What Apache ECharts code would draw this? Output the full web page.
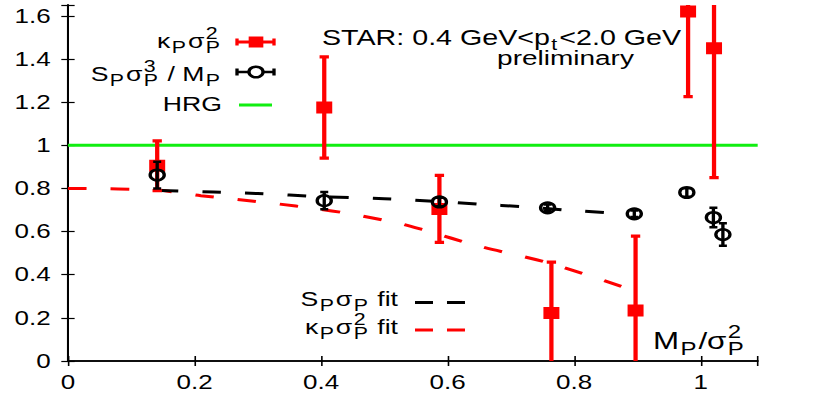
<!DOCTYPE html>
<html>
<head>
<meta charset="utf-8">
<script src="https://cdn.jsdelivr.net/npm/echarts@6/dist/echarts.min.js"></script>
<style>
  html, body { margin: 0; padding: 0; background: #fff; overflow: hidden; }
  /* the reference picture is stretched sideways, so draw narrow and stretch */
  #chart { width: 610px; height: 397px; transform: scaleX(1.33279); transform-origin: 0 0; }
</style>
</head>
<body>
<div id="chart"></div>
<script>
// kappa_p sigma_p^2 points
const kapX = [0.141, 0.405, 0.587, 0.764, 0.897, 0.980, 1.021];
const kapY = [0.905, 1.175, 0.705, 0.223, 0.234, 1.62, 1.45];
const kapErr = [0.115, 0.235, 0.155, 0.235, 0.345, 0.395, 0.60];

// S_p sigma_p^3 / M_p points
const sX = [0.141, 0.405, 0.587, 0.758, 0.895, 0.978, 1.020, 1.035];
const sY = [0.862, 0.743, 0.737, 0.71, 0.682, 0.781, 0.665, 0.586];
const sErr = [0.062, 0.04, 0.02, 0.015, 0.015, 0.02, 0.045, 0.052];

// fit curves
const kapFitX = [0, 0.14, 0.21, 0.29, 0.36, 0.43, 0.52, 0.56, 0.65, 0.76, 0.9];
const kapFitY = [0.8, 0.792, 0.766, 0.742, 0.718, 0.69, 0.64, 0.609, 0.532, 0.454, 0.32];
const sFitX = [0.145, 0.23, 0.3, 0.4, 0.5, 0.57, 0.65, 0.72, 0.79, 0.88];
const sFitY = [0.79, 0.783, 0.776, 0.762, 0.752, 0.742, 0.727, 0.715, 0.699, 0.682];

const hrgY = 1;
const xTicks = { min: 0, max: 1.09, step: 0.2 };
const yTicks = { min: 0, max: 1.65, step: 0.2 };

const SX = 813 / 610;
const FONT = '"Liberation Sans", Arial, Helvetica, sans-serif';
const ctx = document.createElement('canvas').getContext('2d');

function tw(s, size) {
  ctx.font = size + 'px ' + FONT;
  return ctx.measureText(s).width;
}

// lay out a label with sub/superscripts, 'p' stacked above a following 'b'
function mathText(parts, x, base, align, big, small) {
  const items = [];
  let cur = 0, stackW = 0;
  parts.forEach(([t, k]) => {
    const size = k === 'n' ? big : small;
    const w = tw(t, size);
    if (k === 'p') {
      cur += 1;
      items.push({ t, size, x: cur, dy: -0.45 * big });
      stackW = w;
      return;
    }
    if (k === 'b' && !stackW) cur += 1;
    items.push({ t, size, x: cur, dy: k === 'b' ? 0.24 * big : 0 });
    cur += Math.max(w, stackW) + (k === 'b' ? 1.5 : 0);
    stackW = 0;
  });
  cur += stackW;
  let x0 = x;
  if (align === 'right') x0 = x - cur;
  else if (align === 'center') x0 = x - cur / 2;
  return items.map(it => ({
    type: 'text',
    x: x0 + it.x,
    y: base + it.dy - 0.35 * it.size,
    z: 100,
    style: {
      text: it.t,
      font: it.size + 'px ' + FONT,
      fill: '#000',
      align: 'left', verticalAlign: 'middle',
      textAlign: 'left', textVerticalAlign: 'middle'
    }
  }));
}

function tickFmt(step) {
  return v => {
    const k = Math.round(v / step);
    return Math.abs(v - k * step) < 1e-6 ? String(+(k * step).toFixed(1)) : '';
  };
}

function errRender(color, lw, cap, marker) {
  return function (params, api) {
    const x = api.value(0), y = api.value(1), e = api.value(2);
    const c = api.coord([x, y]);
    const hi = api.coord([x, y + e]);
    const lo = api.coord([x, y - e]);
    const st = { stroke: color, lineWidth: lw };
    const children = [
      { type: 'line', shape: { x1: c[0], y1: hi[1], x2: c[0], y2: lo[1] }, style: st },
      { type: 'line', shape: { x1: c[0] - cap, y1: hi[1], x2: c[0] + cap, y2: hi[1] }, style: st },
      { type: 'line', shape: { x1: c[0] - cap, y1: lo[1], x2: c[0] + cap, y2: lo[1] }, style: st }
    ];
    if (marker === 'rect') {
      children.push({ type: 'rect', shape: { x: c[0] - 6, y: c[1] - 6, width: 12, height: 12 }, style: { fill: color } });
    } else {
      children.push({ type: 'circle', shape: { cx: c[0], cy: c[1], r: 5.3 }, style: { fill: 'none', stroke: color, lineWidth: 2.5 } });
    }
    return { type: 'group', children };
  };
}

const axisCommon = {
  type: 'value',
  axisLine: { show: true, lineStyle: { color: '#000', width: 1.5 } },
  axisTick: { show: true, inside: true, length: 5, lineStyle: { color: '#000', width: 1.2 } },
  splitLine: { show: false }
};

// legend and labels (screen x divided by SX)
const graphics = [].concat(
  mathText([['κ', 'n'], ['P', 'b'], ['σ', 'n'], ['2', 'p'], ['P', 'b']], 222 / SX, 48.5, 'right', 20, 16),
  mathText([['S', 'n'], ['P', 'b'], ['σ', 'n'], ['3', 'p'], ['P', 'b'], [' / M', 'n'], ['P', 'b']], 222 / SX, 81.5, 'right', 20, 16),
  mathText([['HRG', 'n']], 222 / SX, 111.5, 'right', 20, 16),
  mathText([['STAR: 0.4 GeV<p', 'n'], ['t', 'b'], ['<2.0 GeV', 'n']], 322 / SX, 45, 'left', 21.5, 16),
  mathText([['preliminary', 'n']], 565.5 / SX, 65, 'center', 21, 16),
  mathText([['S', 'n'], ['P', 'b'], ['σ', 'n'], ['P', 'b'], [' fit', 'n']], 398 / SX, 306, 'right', 20, 16),
  mathText([['κ', 'n'], ['P', 'b'], ['σ', 'n'], ['2', 'p'], ['P', 'b'], [' fit', 'n']], 398 / SX, 334.5, 'right', 20, 16),
  mathText([['M', 'n'], ['P', 'b'], ['/σ', 'n'], ['2', 'p'], ['P', 'b']], 653 / SX, 349, 'left', 23.5, 18),
  [
    // kappa sample
    { type: 'line', shape: { x1: 237 / SX, y1: 42, x2: 274 / SX, y2: 42 }, style: { stroke: '#ff0000', lineWidth: 3 } },
    { type: 'line', shape: { x1: 237 / SX, y1: 38.5, x2: 237 / SX, y2: 45.5 }, style: { stroke: '#ff0000', lineWidth: 2.5 } },
    { type: 'line', shape: { x1: 274 / SX, y1: 38.5, x2: 274 / SX, y2: 45.5 }, style: { stroke: '#ff0000', lineWidth: 2.5 } },
    { type: 'rect', shape: { x: 256 / SX - 5.5, y: 36.5, width: 11, height: 11 }, style: { fill: '#ff0000' } },
    // S sample
    { type: 'line', shape: { x1: 237 / SX, y1: 72, x2: 274 / SX, y2: 72 }, style: { stroke: '#000', lineWidth: 2.5 } },
    { type: 'line', shape: { x1: 237 / SX, y1: 68.5, x2: 237 / SX, y2: 75.5 }, style: { stroke: '#000', lineWidth: 2.5 } },
    { type: 'line', shape: { x1: 274 / SX, y1: 68.5, x2: 274 / SX, y2: 75.5 }, style: { stroke: '#000', lineWidth: 2.5 } },
    { type: 'circle', shape: { cx: 256 / SX, cy: 72, r: 5.3 }, style: { fill: '#fff', stroke: '#000', lineWidth: 2.5 } },
    // HRG sample
    { type: 'line', shape: { x1: 239 / SX, y1: 105, x2: 272 / SX, y2: 105 }, style: { stroke: '#11ee11', lineWidth: 3 } },
    // fit samples
    { type: 'line', shape: { x1: 415 / SX, y1: 302.5, x2: 465 / SX, y2: 302.5 }, style: { stroke: '#000', lineWidth: 3, lineDash: [13.5, 10.5] } },
    { type: 'line', shape: { x1: 415 / SX, y1: 330, x2: 465 / SX, y2: 330 }, style: { stroke: '#ff0000', lineWidth: 3, lineDash: [13.5, 10.5] } }
  ]
);

const chart = echarts.init(document.getElementById('chart'), null, { renderer: 'svg' });

chart.setOption({
  animation: false,
  backgroundColor: '#fff',
  textStyle: { fontFamily: FONT },
  grid: { left: 51, right: 41.5, top: 5, bottom: 36 },
  xAxis: [
    Object.assign({}, axisCommon, {
      position: 'bottom', min: xTicks.min, max: xTicks.max, interval: xTicks.step,
      axisLabel: { color: '#000', fontSize: 19.5, fontFamily: FONT, margin: 11, formatter: tickFmt(xTicks.step) }
    }),
    Object.assign({}, axisCommon, {
      position: 'top', min: xTicks.min, max: xTicks.max, interval: xTicks.step,
      axisLabel: { show: false }
    })
  ],
  yAxis: [
    Object.assign({}, axisCommon, {
      position: 'left', min: yTicks.min, max: yTicks.max, interval: yTicks.step,
      axisLabel: { color: '#000', fontSize: 19.5, fontFamily: FONT, margin: 13, formatter: tickFmt(yTicks.step) }
    }),
    Object.assign({}, axisCommon, {
      position: 'right', min: yTicks.min, max: yTicks.max, interval: yTicks.step,
      axisLabel: { show: false }
    })
  ],
  series: [
    {
      name: 'HRG', type: 'line', showSymbol: false, silent: true,
      data: [[xTicks.min, hrgY], [xTicks.max, hrgY]],
      lineStyle: { color: '#11ee11', width: 3 }, z: 2
    },
    {
      name: 'kappa fit', type: 'line', showSymbol: false, smooth: 0.3, silent: true,
      data: kapFitX.map((x, i) => [x, kapFitY[i]]),
      lineStyle: { color: '#ff0000', width: 3, type: [14, 18] }, z: 3
    },
    {
      name: 'S fit', type: 'line', showSymbol: false, smooth: 0.3, silent: true,
      data: sFitX.map((x, i) => [x, sFitY[i]]),
      lineStyle: { color: '#000', width: 3, type: [14, 18] }, z: 3
    },
    {
      name: 'kappa sigma2', type: 'custom', clip: true, z: 4,
      renderItem: errRender('#ff0000', 3.2, 3.5, 'rect'),
      encode: { x: 0, y: 1 },
      data: kapX.map((x, i) => [x, kapY[i], kapErr[i]])
    },
    {
      name: 'S sigma3 / M', type: 'custom', clip: true, z: 5,
      renderItem: errRender('#000', 2.5, 3, 'circle'),
      encode: { x: 0, y: 1 },
      data: sX.map((x, i) => [x, sY[i], sErr[i]])
    }
  ],
  graphic: { elements: graphics }
});
</script>
</body>
</html>
